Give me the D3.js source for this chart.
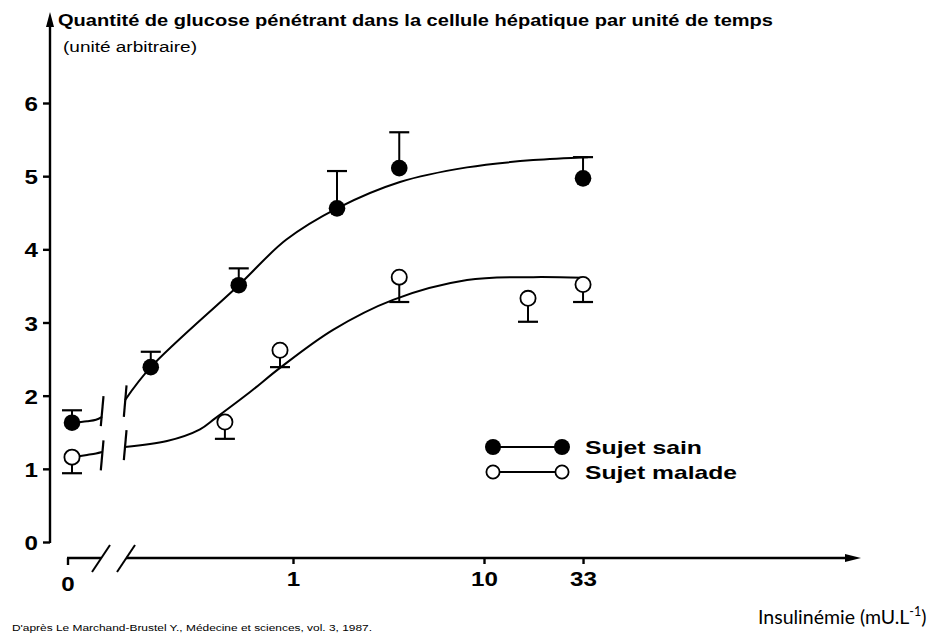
<!DOCTYPE html>
<html><head><meta charset="utf-8">
<script src="https://cdn.jsdelivr.net/npm/d3@7"></script>
<style>body{margin:0;background:#fff}</style>
</head><body>
<svg id="c" width="932" height="637"></svg>
<script>
// ---------- data ----------
const yTicks = [0, 1, 2, 3, 4, 5, 6];
const xTicks = [1, 10, 33];
const xTickLabels = ["1", "10", "33"];
const zeroLabel = "0";
const titleText = "Quantité de glucose pénétrant dans la cellule hépatique par unité de temps";
const subtitleText = "(unité arbitraire)";
const xLabelText = "Insulinémie (mU.L";
const xLabelSup = "-1";
const xLabelEnd = ")";
const sourceText = "D'après Le Marchand-Brustel Y., Médecine et sciences, vol. 3, 1987.";
const seriesNames = ["Sujet sain", "Sujet malade"];

// Sujet sain (filled), error bars upward
const sainZeroY = 1.63, sainZeroErr = 1.80;
const sainX = [0.18, 0.52, 1.7, 3.6, 33];
const sainY = [2.39, 3.51, 4.56, 5.11, 4.97];
const sainErr = [2.60, 3.74, 5.07, 5.60, 5.26];

// Sujet malade (open), error bars downward
const maladeZeroY = 1.16, maladeZeroErr = 0.94;
const maladeX = [0.44, 0.855, 3.6, 17, 33];
const maladeY = [1.64, 2.62, 3.62, 3.33, 3.52];
const maladeErr = [1.41, 2.39, 3.28, 3.01, 3.28];

// fitted curves
const sainCurveX = [0.132, 0.18, 0.52, 0.92, 1.7, 3.63, 8.15, 18.1, 35];
const sainCurveY = [1.94, 2.39, 3.51, 4.13, 4.56, 4.92, 5.12, 5.22, 5.26];
const maladeCurveX = [0.132, 0.219, 0.326, 0.391, 0.596, 0.855, 1.62, 3.34, 8.15, 18.1, 33];
const maladeCurveY = [1.30, 1.38, 1.54, 1.69, 2.05, 2.38, 2.90, 3.31, 3.58, 3.62, 3.61];

// short segment before the axis break (0 = zero point, 1 = break)
const lowT = [0, 0.5, 0.8, 1];
const sainLowY = [1.63, 1.65, 1.67, 1.71];
const maladeLowY = [1.16, 1.19, 1.21, 1.23];

// break marks on the curves (value spans)
const sainBreakLeft = [1.585, 1.995], sainBreakRight = [1.71, 2.14];
const maladeBreakLeft = [0.98, 1.39], maladeBreakRight = [1.12, 1.53];
const curveStartX = 0.132;

// ---------- drawing ----------
const svg = d3.select("#c");
const FONT = "'Liberation Sans', Arial, Helvetica, sans-serif";

const y = d3.scaleLinear().domain([0, 6]).range([542, 103]);
const x = d3.scaleLog().domain([1, 10]).range([293, 484]);
const xLow = d3.scaleLinear().domain([0, 1]).range([72, 102]);

const axisX = 50, axisY = 558;

function fit(sel, w) {
  sel.attr("textLength", w).attr("lengthAdjust", "spacingAndGlyphs");
}
function stretch(sel, k) {
  sel.each(function () {
    const w = this.getComputedTextLength();
    d3.select(this).attr("textLength", w * k).attr("lengthAdjust", "spacingAndGlyphs");
  });
}

// Y axis
svg.append("line").attr("x1", axisX).attr("x2", axisX).attr("y1", y(0) + 1).attr("y2", 22)
  .attr("stroke", "#000").attr("stroke-width", 2.4);
svg.append("path").attr("d", `M${axisX},12 L${axisX - 4},27 L${axisX + 4},27 Z`).attr("fill", "#000");
const yAxis = svg.append("g").attr("transform", `translate(${axisX},0)`)
  .call(d3.axisLeft(y).tickValues(yTicks).tickFormat(d3.format("d")).tickSize(7).tickPadding(5));
yAxis.select(".domain").remove();
yAxis.selectAll(".tick line").attr("stroke", "#000").attr("stroke-width", 2.4);
yAxis.selectAll(".tick text").attr("font-family", FONT).attr("font-weight", "bold")
  .attr("font-size", 21).attr("fill", "#000").attr("dy", "0.36em").call(stretch, 1.15);

// X axis (broken)
const bx1 = xLow(1) - 1, bx2 = x(curveStartX) + 1;
const xStart = xLow(0) - 5, xEnd = 846;
svg.append("line").attr("x1", xStart).attr("x2", bx1).attr("y1", axisY).attr("y2", axisY)
  .attr("stroke", "#000").attr("stroke-width", 2.4);
svg.append("line").attr("x1", bx2).attr("x2", xEnd).attr("y1", axisY).attr("y2", axisY)
  .attr("stroke", "#000").attr("stroke-width", 2.4);
svg.append("path").attr("d", `M861,${axisY} L${xEnd - 1},${axisY - 4} L${xEnd - 1},${axisY + 4} Z`).attr("fill", "#000");
svg.append("line").attr("x1", xStart + 1).attr("x2", xStart + 1).attr("y1", axisY).attr("y2", axisY + 7)
  .attr("stroke", "#000").attr("stroke-width", 2.4);
[bx1, bx2].forEach(cx => {
  svg.append("line").attr("x1", cx - 9).attr("y1", axisY + 14).attr("x2", cx + 9).attr("y2", axisY - 13)
    .attr("stroke", "#000").attr("stroke-width", 2);
});
const xAxis = svg.append("g").attr("transform", `translate(0,${axisY})`)
  .call(d3.axisBottom(x).tickValues(xTicks).tickFormat((d, i) => xTickLabels[i]).tickSize(6).tickPadding(7));
xAxis.select(".domain").remove();
xAxis.selectAll(".tick line").attr("stroke", "#000").attr("stroke-width", 2.4);
xAxis.selectAll(".tick text").attr("font-family", FONT).attr("font-weight", "bold")
  .attr("font-size", 21).attr("fill", "#000").call(stretch, 1.15);
svg.append("text").attr("x", xStart + 1).attr("y", axisY + 33).attr("text-anchor", "middle")
  .attr("font-family", FONT).attr("font-weight", "bold").attr("font-size", 21).text(zeroLabel).call(stretch, 1.15);

// curves
const line = d3.line().curve(d3.curveCatmullRom.alpha(0.5));
function drawCurve(xs, ys, sx) {
  svg.append("path").attr("d", line(xs.map((v, i) => [sx(v), y(ys[i])])))
    .attr("fill", "none").attr("stroke", "#000").attr("stroke-width", 2);
}
drawCurve(sainCurveX, sainCurveY, x);
drawCurve(maladeCurveX, maladeCurveY, x);
drawCurve(lowT, sainLowY, xLow);
drawCurve(lowT, maladeLowY, xLow);

// break marks on curves
function breakMark(px, span) {
  svg.append("line").attr("x1", px - 1.2).attr("y1", y(span[0])).attr("x2", px + 1.5).attr("y2", y(span[1]))
    .attr("stroke", "#000").attr("stroke-width", 2.2);
}
breakMark(xLow(1), sainBreakLeft);
breakMark(xLow(1), maladeBreakLeft);
breakMark(x(curveStartX), sainBreakRight);
breakMark(x(curveStartX), maladeBreakRight);

// error bars
function errBar(px, v, e) {
  svg.append("line").attr("x1", px).attr("x2", px).attr("y1", y(v)).attr("y2", y(e))
    .attr("stroke", "#000").attr("stroke-width", 2);
  svg.append("line").attr("x1", px - 10).attr("x2", px + 10).attr("y1", y(e)).attr("y2", y(e))
    .attr("stroke", "#000").attr("stroke-width", 2.2);
}
errBar(xLow(0), sainZeroY, sainZeroErr);
errBar(xLow(0), maladeZeroY, maladeZeroErr);
sainX.forEach((v, i) => errBar(x(v), sainY[i], sainErr[i]));
maladeX.forEach((v, i) => errBar(x(v), maladeY[i], maladeErr[i]));

// points
function dot(px, py, filled) {
  svg.append("circle").attr("cx", px).attr("cy", py).attr("r", filled ? 8.3 : 7.6)
    .attr("fill", filled ? "#000" : "#fff").attr("stroke", "#000").attr("stroke-width", filled ? 0 : 1.8);
}
dot(xLow(0), y(sainZeroY), true);
dot(xLow(0), y(maladeZeroY), false);
sainX.forEach((v, i) => dot(x(v), y(sainY[i]), true));
maladeX.forEach((v, i) => dot(x(v), y(maladeY[i]), false));

// legend
const legend = svg.append("g");
const legendRows = [447, 472];
const legendWidths = [117, 152];
seriesNames.forEach((name, i) => {
  const ly = legendRows[i], filled = i === 0;
  legend.append("line").attr("x1", 493).attr("x2", 562).attr("y1", ly).attr("y2", ly)
    .attr("stroke", "#000").attr("stroke-width", 2);
  [493, 562].forEach(cx => legend.append("circle").attr("cx", cx).attr("cy", ly).attr("r", filled ? 8 : 6.6)
    .attr("fill", filled ? "#000" : "#fff").attr("stroke", "#000").attr("stroke-width", filled ? 0 : 1.8));
  legend.append("text").attr("x", 585).attr("y", ly + 6.5).attr("font-family", FONT).attr("font-weight", "bold")
    .attr("font-size", 18.5).text(name).call(fit, legendWidths[i]);
});

// titles
svg.append("text").attr("x", 58).attr("y", 26).attr("font-family", FONT).attr("font-weight", "bold")
  .attr("font-size", 16.5).text(titleText).call(fit, 715);
svg.append("text").attr("x", 63).attr("y", 52).attr("font-family", FONT)
  .attr("font-size", 15.5).text(subtitleText).call(fit, 134);
svg.append("text").attr("x", 12).attr("y", 631).attr("font-family", FONT)
  .attr("font-size", 9.6).text(sourceText).call(fit, 360);

// x label (single text with a superscript)
const xl = svg.append("text").attr("x", 758).attr("y", 624)
  .attr("font-family", "Lato, 'Open Sans', sans-serif").attr("font-size", 19.5).attr("fill", "#000");
xl.append("tspan").text(xLabelText);
xl.append("tspan").attr("font-size", 12.5).attr("dy", -8).text(xLabelSup);
xl.append("tspan").attr("dy", 8).text(xLabelEnd);
</script>
</body></html>
